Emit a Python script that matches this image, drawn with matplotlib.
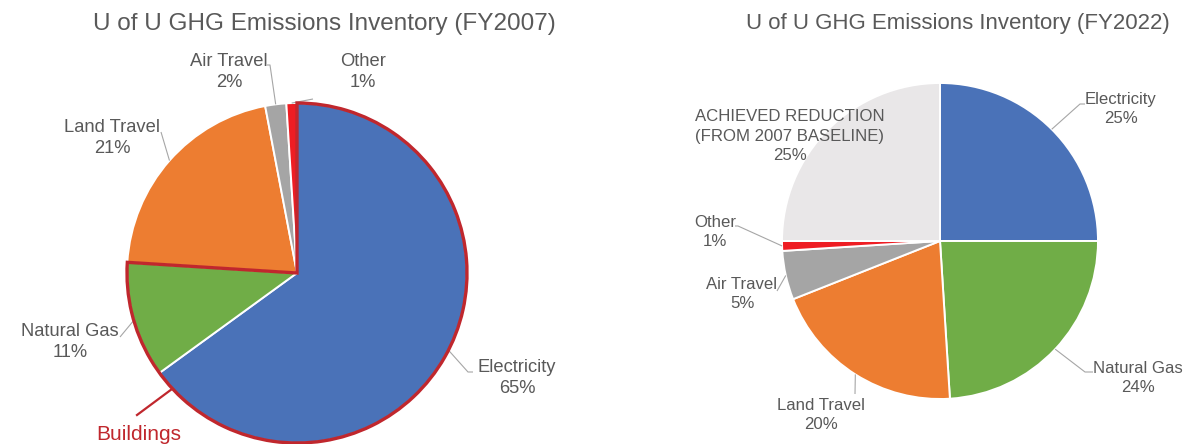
import matplotlib
matplotlib.use('Agg')
import matplotlib.pyplot as plt
from matplotlib.patches import Wedge
import numpy as np

plt.rcParams['font.family'] = ['Liberation Sans', 'DejaVu Sans']

# figure size in pixels, layout below is given in image pixels (y down)
W, H = 1183, 444

# FY2007 inventory
labels_2007 = ['Electricity', 'Natural Gas', 'Land Travel', 'Air Travel', 'Other']
values_2007 = [65, 11, 21, 2, 1]

# FY2022 inventory
labels_2022 = ['Electricity', 'Natural Gas', 'Land Travel', 'Air Travel', 'Other',
               'ACHIEVED REDUCTION\n(FROM 2007 BASELINE)']
values_2022 = [25, 24, 20, 5, 1, 25]

colors = {
    'Electricity': '#4A72B8',
    'Natural Gas': '#70AD47',
    'Land Travel': '#ED7D31',
    'Air Travel': '#A5A5A5',
    'Other': '#EE1D23',
    'ACHIEVED REDUCTION\n(FROM 2007 BASELINE)': '#E9E7E8',
}

TEXT = '#595959'
LEADER = '#A6A6A6'
BUILDINGS = '#C0272D'

# label centre + leader points (from the text side) in pixels
layout_2007 = {
    'Electricity': ((517, 378), [(468, 372), (473, 372)]),
    'Natural Gas': ((70, 342), [(120, 337)]),
    'Land Travel': ((112, 138), [(161, 132)]),
    'Air Travel': ((229, 72), [(270, 65), (267, 65)]),
    'Other': ((363, 72), [(313, 99)]),
}
layout_2022 = {
    'Electricity': ((1121, 109), [(1080, 104), (1085, 104)]),
    'Natural Gas': ((1138, 378), [(1085, 372), (1093, 372)]),
    'Land Travel': ((821, 415), [(855, 394)]),
    'Air Travel': ((742, 294), [(777, 291)]),
    'Other': ((715, 232), [(738, 226), (735, 226)]),
    'ACHIEVED REDUCTION\n(FROM 2007 BASELINE)': ((790, 136), []),
}


def px(x, y):
    return x, H - y


fig = plt.figure(figsize=(W / 100, H / 100), dpi=100)
ax = fig.add_axes([0, 0, 1, 1])


def draw_pie(values, labels, center, radius, layout, fontsize):
    wedges, _ = ax.pie(
        values,
        colors=[colors[l] for l in labels],
        startangle=90,
        counterclock=False,
        center=px(*center),
        radius=radius,
        wedgeprops=dict(edgecolor='white', linewidth=1.4),
    )
    for w, lab, val in zip(wedges, labels, values):
        (tx, ty), pts = layout[lab]
        ax.text(*px(tx, ty), f'{lab}\n{val}%', ha='center', va='center',
                multialignment='center', fontsize=fontsize, color=TEXT,
                linespacing=1.36)
        if pts:
            ang = np.deg2rad((w.theta1 + w.theta2) / 2)
            cx, cy = w.center
            xs = [cx + w.r * np.cos(ang)] + [p[0] for p in pts]
            ys = [cy + w.r * np.sin(ang)] + [H - p[1] for p in pts]
            ax.plot(xs, ys, color=LEADER, lw=0.8, solid_capstyle='butt')
    return wedges


w07 = draw_pie(values_2007, labels_2007, (297, 273), 170, layout_2007, 13.2)
w22 = draw_pie(values_2022, labels_2022, (940, 241), 158, layout_2022, 12.1)

# Buildings = Electricity + Natural Gas outline
bld = w07[:2]
ax.add_patch(Wedge(bld[0].center, bld[0].r,
                   min(w.theta1 for w in bld), max(w.theta2 for w in bld),
                   facecolor='none', edgecolor=BUILDINGS, linewidth=2.4,
                   zorder=5))
ax.plot(*zip(px(137, 415), px(172, 389)), color=BUILDINGS, lw=1.6)
ax.text(*px(139, 434), 'Buildings', ha='center', va='center',
        fontsize=15, color=BUILDINGS)

ax.text(*px(324, 24), 'U of U GHG Emissions Inventory (FY2007)',
        ha='center', va='center', fontsize=17.5, color=TEXT)
ax.text(*px(958, 24), 'U of U GHG Emissions Inventory (FY2022)',
        ha='center', va='center', fontsize=16, color=TEXT)

ax.set_xlim(0, W)
ax.set_ylim(0, H)
ax.set_aspect('equal')
ax.axis('off')

fig.savefig('out.png', dpi=100, facecolor='white')
